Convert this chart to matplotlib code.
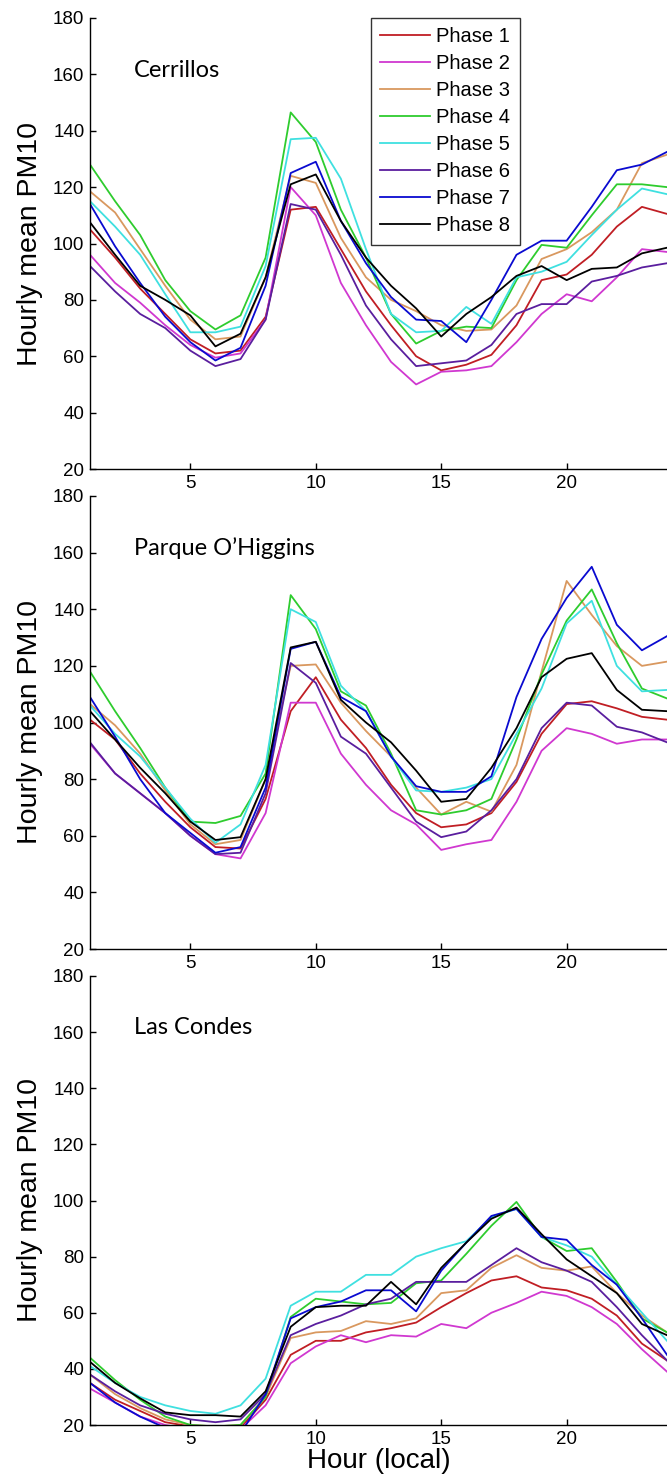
import numpy as np
import matplotlib
matplotlib.use("Agg")
import matplotlib.pyplot as plt

hours = np.arange(1, 25)

phases = ["Phase 1", "Phase 2", "Phase 3", "Phase 4", "Phase 5", "Phase 6", "Phase 7", "Phase 8"]
colors = ["#c01e24", "#d038d0", "#d9985f", "#2ecc2e", "#3fe0e0", "#5a1e9e", "#0a0ad0", "#000000"]

stations = ["Cerrillos", "Parque O\u2019Higgins", "Las Condes"]

# Cerrillos
cer_p1 = [105, 95, 84, 75, 66, 61, 62, 74, 112, 113, 98, 83, 71, 60, 55, 57, 60.5, 71, 87, 89, 96, 106, 113, 110.5]
cer_p2 = [96, 86, 79, 71, 64, 59.5, 61, 73, 120, 110, 86, 71, 58, 50, 54.5, 55, 56.5, 65, 75, 82, 79.5, 88, 98, 97]
cer_p3 = [118.5, 111, 98, 85, 73, 66, 67, 88, 124, 121.5, 102, 88, 80, 76, 71, 69, 69.5, 78, 94.5, 98, 104, 112, 128.5, 131.5]
cer_p4 = [128, 115, 103, 87, 76, 69.5, 74.5, 95, 146.5, 136, 112, 95, 75, 64.5, 69, 70.5, 70, 87, 99.5, 98.5, 110, 121, 121, 120]
cer_p5 = [115, 106, 96, 82, 68.5, 68.5, 70.5, 92, 137, 137.5, 123, 98, 75, 68.5, 69, 77.5, 71.5, 88, 90, 93.5, 103, 112, 119.5, 117.5]
cer_p6 = [92, 83, 75, 70, 62, 56.5, 59, 73, 114, 112, 96, 78, 66, 56.5, 57.5, 58.5, 64, 75, 78.5, 78.5, 86.5, 88.5, 91.5, 93]
cer_p7 = [114, 99, 86, 74, 65, 58.5, 63, 85, 125, 129, 108, 93, 81, 73, 72.5, 65, 80, 96, 101, 101, 113, 126, 128, 132.5]
cer_p8 = [107.5, 96, 85, 80, 74.5, 63.5, 68, 88, 121, 124.5, 108, 95, 85, 77, 67, 75, 81, 88.5, 92, 87, 91, 91.5, 96.5, 98.5]

# Parque O'Higgins
poh_p1 = [101, 94, 82, 72, 63, 56, 55.5, 73, 104, 116, 101, 91, 78, 68, 63, 64, 68, 79, 96, 106.5, 107.5, 105, 102, 101]
poh_p2 = [92.5, 82, 75, 68, 60, 53.5, 52, 68, 107, 107, 89, 78, 69, 64, 55, 57, 58.5, 72, 90, 98, 96, 92.5, 94, 94]
poh_p3 = [106.5, 99, 89, 76, 64, 57, 58.5, 80, 120, 120.5, 107, 97, 88, 77, 67.5, 72, 68.5, 85, 118, 150, 138, 127, 120, 121.5]
poh_p4 = [118, 104, 91, 77, 65, 64.5, 67, 82, 145, 133, 111, 106, 89, 69, 67.5, 69, 73, 94, 117, 136, 147, 128, 112, 108.5]
poh_p5 = [106, 96, 88, 77, 66, 57.5, 64, 85, 140, 135.5, 113, 104, 88, 76, 75.5, 77, 80, 96, 112, 135, 143, 120, 111, 111.5]
poh_p6 = [93, 82, 75, 68, 60, 53.5, 54, 75, 121, 114, 95, 89, 77, 65, 59.5, 61.5, 69, 80, 98, 107, 106, 98.5, 96.5, 93]
poh_p7 = [109, 95, 80, 68, 61, 54, 56, 77, 126, 128.5, 109, 104, 88, 77.5, 75.5, 75.5, 81, 109, 129.5, 144, 155, 134.5, 125.5, 130.5]
poh_p8 = [104, 94, 84, 75, 65, 58.5, 59.5, 80, 126.5, 128.5, 108, 100, 93, 83, 72, 73, 84, 98, 116, 122.5, 124.5, 111.5, 104.5, 104]

# Las Condes
lc_p1 = [35, 29, 25, 21, 19.5, 18.5, 19, 29, 45, 50, 50, 53, 54.5, 56.5, 62, 67, 71.5, 73, 69, 68, 65, 59, 49, 43]
lc_p2 = [33, 28, 23, 20, 18.5, 18, 18.5, 27, 42, 48, 52, 49.5, 52, 51.5, 56, 54.5, 60, 63.5, 67.5, 66, 62, 56, 47, 39]
lc_p3 = [38, 31, 26, 22, 20, 19.5, 20, 30, 51, 53, 53.5, 57, 56, 58, 67, 68, 76, 80.5, 76, 75, 76.5, 67, 59, 53]
lc_p4 = [44, 36, 29, 23, 20, 19.5, 20, 30, 58.5, 65, 64, 63, 63.5, 70.5, 71.5, 81, 91, 99.5, 87, 82, 83, 71, 58, 53]
lc_p5 = [41, 35, 30, 27, 25, 24, 27, 36.5, 62.5, 67.5, 67.5, 73.5, 73.5, 80, 83, 85.5, 94, 97, 87, 84, 80, 70, 60, 50]
lc_p6 = [38, 32, 27, 24, 22, 21, 22, 31, 52, 56, 59, 63, 65, 71, 71, 71, 77, 83, 78, 75, 71, 62, 52, 43]
lc_p7 = [35, 28, 23, 19, 17, 16, 17, 31, 58, 62, 64, 68, 68, 60.5, 75, 85, 94.5, 97, 87, 86, 77, 70, 58, 45]
lc_p8 = [42.5, 35, 29.5, 24.5, 23.5, 23.5, 23, 32, 55, 62, 62.5, 62.5, 71, 63, 76, 85, 93.5, 97.5, 88, 79, 73, 67, 56, 52]

panels = [
    [cer_p1, cer_p2, cer_p3, cer_p4, cer_p5, cer_p6, cer_p7, cer_p8],
    [poh_p1, poh_p2, poh_p3, poh_p4, poh_p5, poh_p6, poh_p7, poh_p8],
    [lc_p1, lc_p2, lc_p3, lc_p4, lc_p5, lc_p6, lc_p7, lc_p8],
]

tick_font = ["Liberation Sans Narrow", "Liberation Sans", "DejaVu Sans"]
label_font = ["Liberation Sans", "DejaVu Sans"]
station_font = ["Lato", "DejaVu Sans"]

W, H = 667, 1479
fig = plt.figure(figsize=(W / 100, H / 100), dpi=100)

left = 90 / W
width = (W - 90) / W
# (top, bottom) in pixels of each panel
boxes = [(18, 469), (496, 949), (976, 1425)]

for i, (station, series) in enumerate(zip(stations, panels)):
    top, bot = boxes[i]
    ax = fig.add_axes([left, 1 - bot / H, width, (bot - top) / H])
    for name, col, vals in zip(phases, colors, series):
        ax.plot(hours, vals, color=col, lw=1.3, label=name)
    ax.set_xlim(1, 24)
    ax.set_ylim(20, 180)
    ax.set_xticks([5, 10, 15, 20])
    ax.set_yticks(np.arange(20, 181, 20))
    ax.spines["top"].set_visible(False)
    ax.spines["right"].set_visible(False)
    ax.spines["left"].set_linewidth(1.0)
    ax.spines["bottom"].set_linewidth(1.0)
    ax.tick_params(direction="in", length=4, width=1.0, labelsize=13.5, pad=4)
    for lab in ax.get_xticklabels() + ax.get_yticklabels():
        lab.set_family(tick_font)
    ax.set_ylabel("Hourly mean PM10", fontsize=20.5, family=label_font, labelpad=7)
    ax.text(2.75, 161.5, station, fontsize=17, family=station_font, va="center", ha="left")
    if i == 0:
        leg = ax.legend(loc="upper left", bbox_to_anchor=(0.487, 1.0), frameon=True,
                        fancybox=False, edgecolor="black",
                        handlelength=2.5, handletextpad=0.3, labelspacing=0.4,
                        borderpad=0.45, borderaxespad=0.0,
                        prop={"family": label_font, "size": 14.5})
        leg.get_frame().set_linewidth(1.0)
    if i == 2:
        ax.set_xlabel("Hour (local)", fontsize=20, family=label_font, labelpad=0)

fig.savefig("out.png", dpi=100)
